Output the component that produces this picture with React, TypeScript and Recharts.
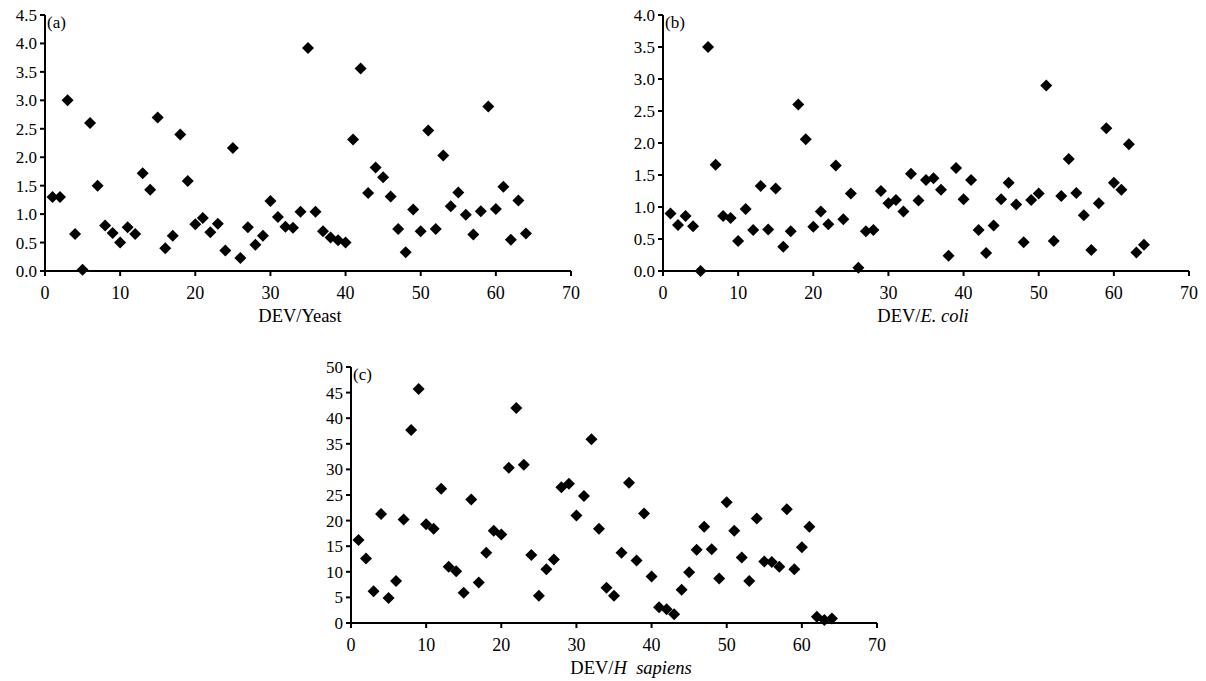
import React from "react";
import { ScatterChart, Scatter, XAxis, YAxis } from "recharts";

const sampleIndex = [
  1, 2, 3, 4, 5, 6, 7, 8, 9, 10, 11, 12, 13, 14, 15, 16,
  17, 18, 19, 20, 21, 22, 23, 24, 25, 26, 27, 28, 29, 30, 31, 32,
  33, 34, 35, 36, 37, 38, 39, 40, 41, 42, 43, 44, 45, 46, 47, 48,
  49, 50, 51, 52, 53, 54, 55, 56, 57, 58, 59, 60, 61, 62, 63, 64,
];

const yeastDev = [
  1.3, 1.3, 3.0, 0.65, 0.02, 2.6, 1.5, 0.8, 0.67, 0.5, 0.77, 0.65, 1.72, 1.43, 2.7, 0.4,
  0.62, 2.4, 1.58, 0.82, 0.93, 0.68, 0.83, 0.36, 2.16, 0.23, 0.77, 0.46, 0.62, 1.23, 0.95, 0.78,
  0.76, 1.04, 3.92, 1.04, 0.7, 0.59, 0.54, 0.5, 2.31, 3.56, 1.37, 1.82, 1.65, 1.31, 0.74, 0.33,
  1.08, 0.7, 2.47, 0.74, 2.03, 1.14, 1.38, 0.99, 0.64, 1.05, 2.89, 1.09, 1.48, 0.55, 1.24, 0.66,
];

const ecoliDev = [
  0.9, 0.72, 0.86, 0.7, 0.0, 3.5, 1.66, 0.86, 0.83, 0.47, 0.97, 0.64, 1.33, 0.65, 1.29, 0.38,
  0.62, 2.6, 2.06, 0.69, 0.93, 0.73, 1.65, 0.81, 1.21, 0.05, 0.62, 0.64, 1.25, 1.06, 1.11, 0.93,
  1.52, 1.1, 1.42, 1.45, 1.27, 0.24, 1.61, 1.12, 1.42, 0.64, 0.28, 0.71, 1.12, 1.38, 1.04, 0.45,
  1.11, 1.21, 2.9, 0.47, 1.17, 1.75, 1.22, 0.87, 0.33, 1.06, 2.23, 1.38, 1.27, 1.98, 0.29, 0.41,
];

const sapiensDev = [
  16.2, 12.6, 6.2, 21.3, 4.9, 8.2, 20.2, 37.7, 45.7, 19.3, 18.4, 26.2, 11.0, 10.1, 5.9, 24.1,
  7.9, 13.7, 18.0, 17.3, 30.3, 42.0, 30.9, 13.3, 5.3, 10.5, 12.4, 26.5, 27.2, 21.0, 24.8, 35.9,
  18.4, 6.9, 5.3, 13.7, 27.4, 12.2, 21.4, 9.1, 3.1, 2.7, 1.7, 6.5, 9.9, 14.3, 18.8, 14.4,
  8.7, 23.6, 18.0, 12.8, 8.2, 20.4, 12.0, 11.9, 11.0, 22.2, 10.5, 14.8, 18.8, 1.2, 0.6, 0.9,
];

const xTicks = [0, 10, 20, 30, 40, 50, 60, 70];
const yTicksA = [0, 0.5, 1, 1.5, 2, 2.5, 3, 3.5, 4, 4.5];
const yTicksB = [0, 0.5, 1, 1.5, 2, 2.5, 3, 3.5, 4];
const yTicksC = [0, 5, 10, 15, 20, 25, 30, 35, 40, 45, 50];

const FONT = '"Liberation Serif", "Times New Roman", serif';

const toRows = (vals: number[]) => sampleIndex.map((x, i) => ({ x, y: vals[i] }));

const Diamond = (props: any) => {
  const { cx, cy } = props;
  if (cx == null || cy == null) return null;
  const r = 6;
  return (
    <path
      d={`M${cx},${cy - r}L${cx + r},${cy}L${cx},${cy + r}L${cx - r},${cy}Z`}
      fill="#000"
    />
  );
};

type Part = { text: string; italic?: boolean };

interface PanelProps {
  left: number;
  top: number;
  values: number[];
  yMax: number;
  yTicks: number[];
  decimals: number;
  tag: string;
  title: Part[];
  titleDx: number;
}

const Panel = ({ left, top, values, yMax, yTicks, decimals, tag, title, titleDx }: PanelProps) => {
  const data = toRows(values);
  const xLabel = (p: any) => {
    const vb = p.viewBox || {};
    const cx = vb.x + vb.width / 2 + titleDx;
    return (
      <text
        x={cx}
        y={vb.y + 51}
        textAnchor="middle"
        fontFamily={FONT}
        fontSize={18.5}
        fill="#000"
        style={{ whiteSpace: "pre" }}
      >
        {title.map((t, i) => (
          <tspan key={i} fontStyle={t.italic ? "italic" : "normal"}>
            {t.text}
          </tspan>
        ))}
      </text>
    );
  };
  const yLabel = (p: any) => {
    const vb = p.viewBox || {};
    return (
      <text
        x={vb.x + vb.width + 2}
        y={vb.y + 13}
        fontFamily={FONT}
        fontSize={17}
        fill="#000"
      >
        {tag}
      </text>
    );
  };
  return (
    <div style={{ position: "absolute", left, top }}>
      <ScatterChart
        width={600}
        height={330}
        margin={{ top: 15, right: 29, left: 10, bottom: 9 }}
      >
        <XAxis
          type="number"
          dataKey="x"
          domain={[0, 70]}
          ticks={xTicks}
          interval={0}
          height={50}
          tickSize={5}
          tickMargin={10}
          axisLine={{ stroke: "#000", strokeWidth: 2 }}
          tickLine={{ stroke: "#000", strokeWidth: 2 }}
          tick={{ fill: "#000", fontSize: 18, fontFamily: FONT }}
          label={xLabel}
        />
        <YAxis
          type="number"
          dataKey="y"
          domain={[0, yMax]}
          ticks={yTicks}
          interval={0}
          width={35}
          tickSize={5}
          tickMargin={3}
          axisLine={{ stroke: "#000", strokeWidth: 2 }}
          tickLine={{ stroke: "#000", strokeWidth: 2 }}
          tick={{ fill: "#000", fontSize: 17, fontFamily: FONT }}
          tickFormatter={(v: number) => v.toFixed(decimals)}
          label={yLabel}
        />
        <Scatter data={data} shape={Diamond} isAnimationActive={false} />
      </ScatterChart>
    </div>
  );
};

export default function App() {
  return (
    <div
      style={{
        position: "absolute",
        left: 0,
        top: 0,
        width: 1206,
        height: 681,
        background: "#fff",
        overflow: "hidden",
      }}
    >
      <Panel
        left={0}
        top={0}
        values={yeastDev}
        yMax={4.5}
        yTicks={yTicksA}
        decimals={1}
        tag="(a)"
        title={[{ text: "DEV/Yeast" }]}
        titleDx={-8}
      />
      <Panel
        left={618}
        top={0}
        values={ecoliDev}
        yMax={4}
        yTicks={yTicksB}
        decimals={1}
        tag="(b)"
        title={[{ text: "DEV/" }, { text: "E. coli", italic: true }]}
        titleDx={-3}
      />
      <Panel
        left={306}
        top={352}
        values={sapiensDev}
        yMax={50}
        yTicks={yTicksC}
        decimals={0}
        tag="(c)"
        title={[{ text: "DEV/" }, { text: "H  sapiens", italic: true }]}
        titleDx={17}
      />
    </div>
  );
}
